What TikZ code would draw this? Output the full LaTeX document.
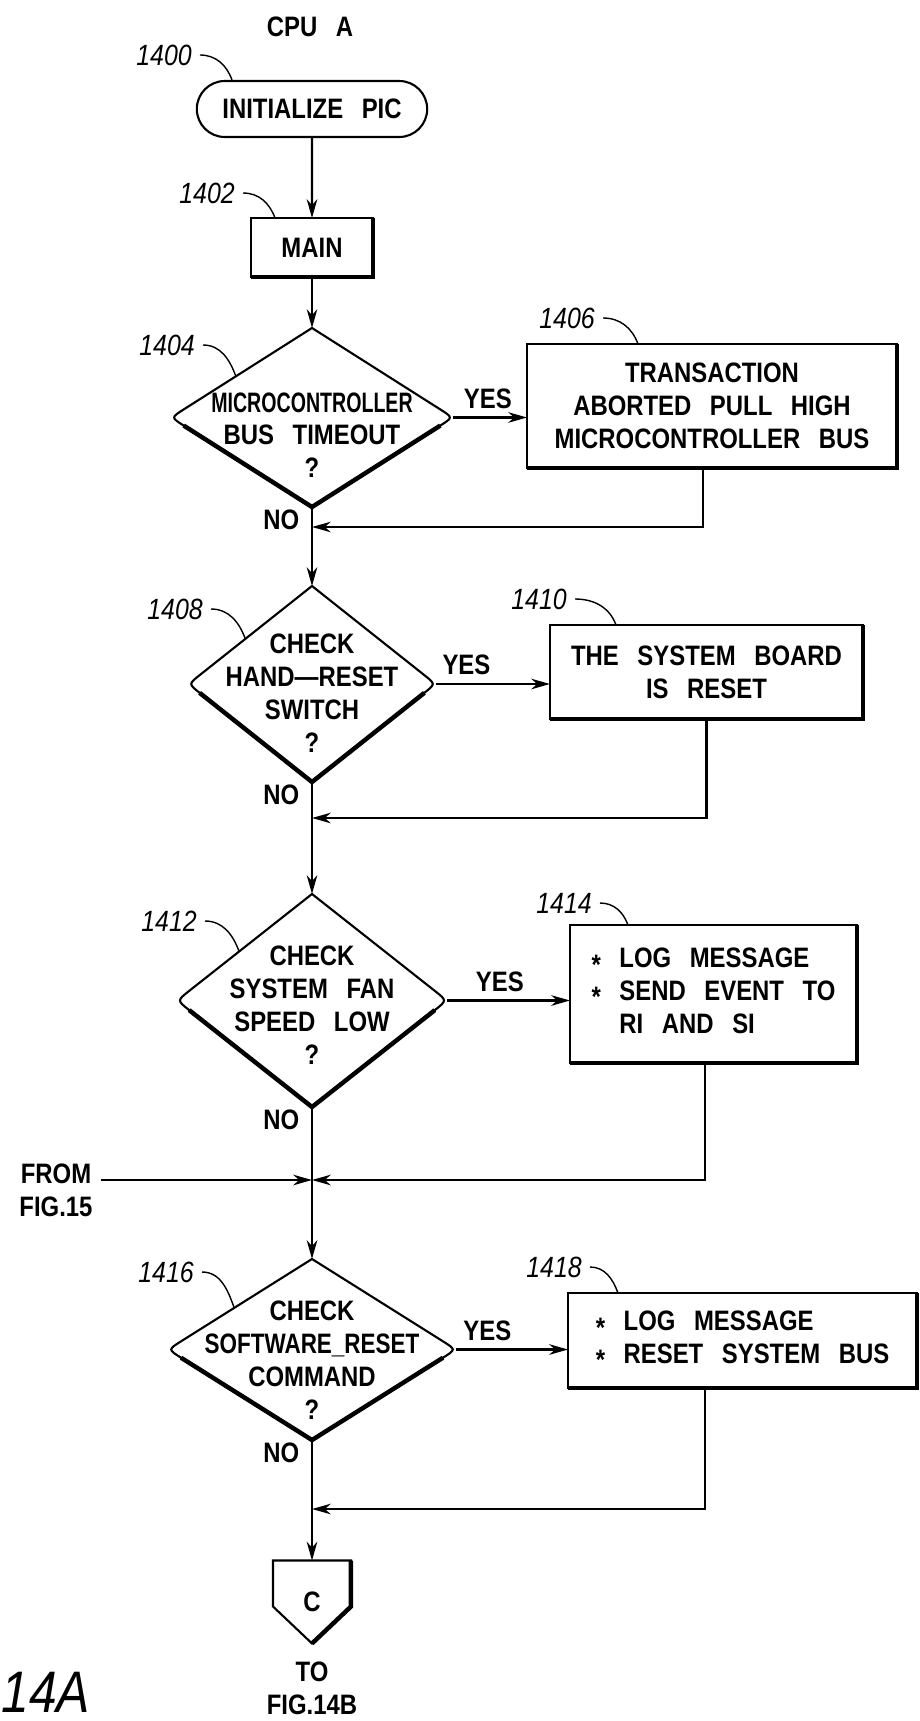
\documentclass[tikz,border=0pt]{standalone}
\usepackage{fontspec}
\usepackage{graphicx}
\setmainfont{Liberation Sans}[FakeStretch=0.85,WordSpace=2.8]
\usetikzlibrary{shapes.misc,arrows.meta,calc}

\newcommand{\bul}{\raisebox{-0.22em}{\large *}}

\begin{document}
\begin{tikzpicture}[
    x=0.015cm, y=-0.015cm,
    txt/.style={font=\bfseries\fontsize{12}{14}\selectfont, align=center},
    flowline/.style={line width=0.9pt},
    heavy/.style={line width=1.9pt},
    arrow/.style={flowline, -{Stealth[length=8pt,width=4.5pt,inset=2.5pt]}},
    leader/.style={line width=0.6pt},
    terminal/.style={rounded rectangle, draw, flowline, txt, minimum width=3.69cm, minimum height=0.84cm},
    proc/.style={rectangle, draw, flowline, txt, outer sep=0pt},
    decision/.style={rectangle, outer sep=0pt, inner sep=0pt},
    ref/.style={font=\itshape\fontsize{12.5}{14}\selectfont, anchor=east},
    nolabel/.style={txt, anchor=north east, inner sep=1pt},
]
\useasboundingbox (0,0) rectangle (919,1721);

% ====== Start ======
\node[txt] (cpu) at (310,27) {CPU A};
\node[terminal] (s1400) at (312,109) {INITIALIZE PIC};
\node[proc, minimum width=1.83cm, minimum height=0.885cm] (m1402) at (312,247.5) {MAIN};

% ====== Decisions ======
\node[decision, minimum width=4.23cm, minimum height=2.685cm] (d1404) at (312,417.5) {};
\node[txt] (t1404) at (312,435) {\scalebox{0.82}[1]{MICROCONTROLLER}\\BUS TIMEOUT\\?};
\node[decision, minimum width=3.705cm, minimum height=2.94cm] (d1408) at (312,684) {};
\node[txt] (t1408) at (312,693) {CHECK\\HAND\textemdash RESET\\SWITCH\\?};
\node[decision, minimum width=4.05cm, minimum height=3.195cm] (d1412) at (312,1000.5) {};
\node[txt] (t1412) at (312,1005) {CHECK\\SYSTEM FAN\\SPEED LOW\\?};
\node[decision, minimum width=4.32cm, minimum height=2.715cm] (d1416) at (312,1349.5) {};
\node[txt] (t1416) at (312,1360) {CHECK\\\scalebox{0.94}[1]{SOFTWARE\_RESET}\\COMMAND\\?};

\foreach \d in {d1404,d1408,d1412,d1416} {
  \draw[flowline] (\d.north) -- ($(\d.east)!0.09!(\d.north)$) .. controls (\d.east) .. ($(\d.east)!0.09!(\d.south)$)
    -- (\d.south) -- ($(\d.west)!0.09!(\d.south)$) .. controls (\d.west) .. ($(\d.west)!0.09!(\d.north)$) -- cycle;
  \draw[heavy] ($(\d.west)!0.09!(\d.south)$) -- (\d.south) -- ($(\d.east)!0.09!(\d.south)$);
}

% ====== Actions ======
\node[proc, minimum width=5.55cm, minimum height=1.86cm] (b1406) at (712,406) {TRANSACTION\\ABORTED PULL HIGH\\MICROCONTROLLER BUS};
\node[proc, minimum width=4.695cm, minimum height=1.41cm] (b1410) at (706.5,672) {THE SYSTEM BOARD\\IS RESET};
\node[proc, minimum width=4.305cm, minimum height=2.07cm, align=left] (b1414) at (713.5,994) {\bul{} LOG MESSAGE\\\bul{} SEND EVENT TO\\\phantom{\bul{} }RI AND SI};
\node[proc, minimum width=5.235cm, minimum height=1.425cm, align=left] (b1418) at (742.5,1340.5) {\bul{} LOG MESSAGE\\\bul{} RESET SYSTEM BUS};

\foreach \b in {m1402,b1406,b1410,b1414,b1418}
  \draw[heavy] (\b.north east) -- (\b.south east) -- (\b.south west);

% ====== Off-page connector ======
\node[txt, minimum width=1.155cm, minimum height=1.23cm, inner sep=0pt] (c) at (312,1602) {C};
\draw[flowline] (c.north west) -- (c.north east) -- ([yshift=-0.69cm]c.north east) -- (c.south) -- ([yshift=-0.69cm]c.north west) -- cycle;
\draw[heavy] (c.north east) -- ([yshift=-0.69cm]c.north east) -- (c.south);
\node[txt] (t14b) at (312,1688) {TO\\FIG.14B};
\node[font=\itshape\fontsize{25}{28}\selectfont, anchor=west, inner sep=0pt] (fig) at (1,1692) {14A};

% ====== Main flow ======
\coordinate (j1) at (312,527);
\coordinate (j2) at (312,818);
\coordinate (j3) at (312,1180);
\coordinate (j4) at (312,1509);

\draw[arrow] (s1400) -- (m1402);
\draw[arrow] (m1402.south) -- (d1404.north);
\draw[arrow] (d1404.south) -- (d1408.north);
\draw[arrow] (d1408.south) -- (d1412.north);
\draw[arrow] (d1412.south) -- (d1416.north);
\draw[arrow] (d1416.south) -- (c.north);

\node[nolabel] (n1404) at ([xshift=-0.15cm]d1404.south) {NO};
\node[nolabel] (n1408) at ([xshift=-0.15cm]d1408.south) {NO};
\node[nolabel] (n1412) at ([xshift=-0.15cm]d1412.south) {NO};
\node[nolabel] (n1416) at ([xshift=-0.15cm]d1416.south) {NO};

% ====== Yes branches ======
\draw[arrow] (d1404.east) -- node[txt, above, pos=0.47] (y1404) {YES} (d1404.east -| b1406.west);
\draw[arrow] (d1408.east) -- node[txt, above, pos=0.27] (y1408) {YES} (d1408.east -| b1410.west);
\draw[arrow] (d1412.east) -- node[txt, above, pos=0.43] (y1412) {YES} (d1412.east -| b1414.west);
\draw[arrow] (d1416.east) -- node[txt, above, pos=0.28] (y1416) {YES} (d1416.east -| b1418.west);

\draw[arrow] ([xshift=-0.135cm]b1406.south) |- (j1);
\draw[arrow] (b1410.south) |- (j2);
\draw[arrow] ([xshift=-0.13cm]b1414.south) |- (j3);
\draw[arrow] ([xshift=-0.56cm]b1418.south) |- (j4);

% ====== Entry from FIG.15 ======
\node[txt] (f15) at (56,1190) {FROM\\FIG.15};
\draw[arrow] (f15.east |- j3) -- (j3);

% ====== Reference numerals ======
\node[ref] (l1400) at (200,55) {1400};
\node[ref] (l1402) at (243,193) {1402};
\node[ref] (l1404) at (203,345) {1404};
\node[ref] (l1406) at (603,318) {1406};
\node[ref] (l1408) at (211,609) {1408};
\node[ref] (l1410) at (575,599) {1410};
\node[ref] (l1412) at (205,921) {1412};
\node[ref] (l1414) at (600,903) {1414};
\node[ref] (l1416) at (202,1272) {1416};
\node[ref] (l1418) at (590,1267) {1418};

\draw[leader] (l1400.east) to[out=0,in=110] ([xshift=-1.2cm]s1400.north);
\draw[leader] (l1402.east) to[out=0,in=110] ([xshift=-0.555cm]m1402.north);
\draw[leader] (l1404.east) to[out=0,in=110] ($(d1404.west)!0.46!(d1404.north)$);
\draw[leader] (l1406.east) to[out=0,in=110] ([xshift=1.665cm]b1406.north west);
\draw[leader] (l1408.east) to[out=0,in=110] ($(d1408.west)!0.46!(d1408.north)$);
\draw[leader] (l1410.east) to[out=0,in=110] ([xshift=0.99cm]b1410.north west);
\draw[leader] (l1412.east) to[out=0,in=110] ($(d1412.west)!0.46!(d1412.north)$);
\draw[leader] (l1414.east) to[out=0,in=110] ([xshift=0.87cm]b1414.north west);
\draw[leader] (l1416.east) to[out=0,in=110] ($(d1416.west)!0.46!(d1416.north)$);
\draw[leader] (l1418.east) to[out=0,in=110] ([xshift=0.75cm]b1418.north west);

\end{tikzpicture}
\end{document}
